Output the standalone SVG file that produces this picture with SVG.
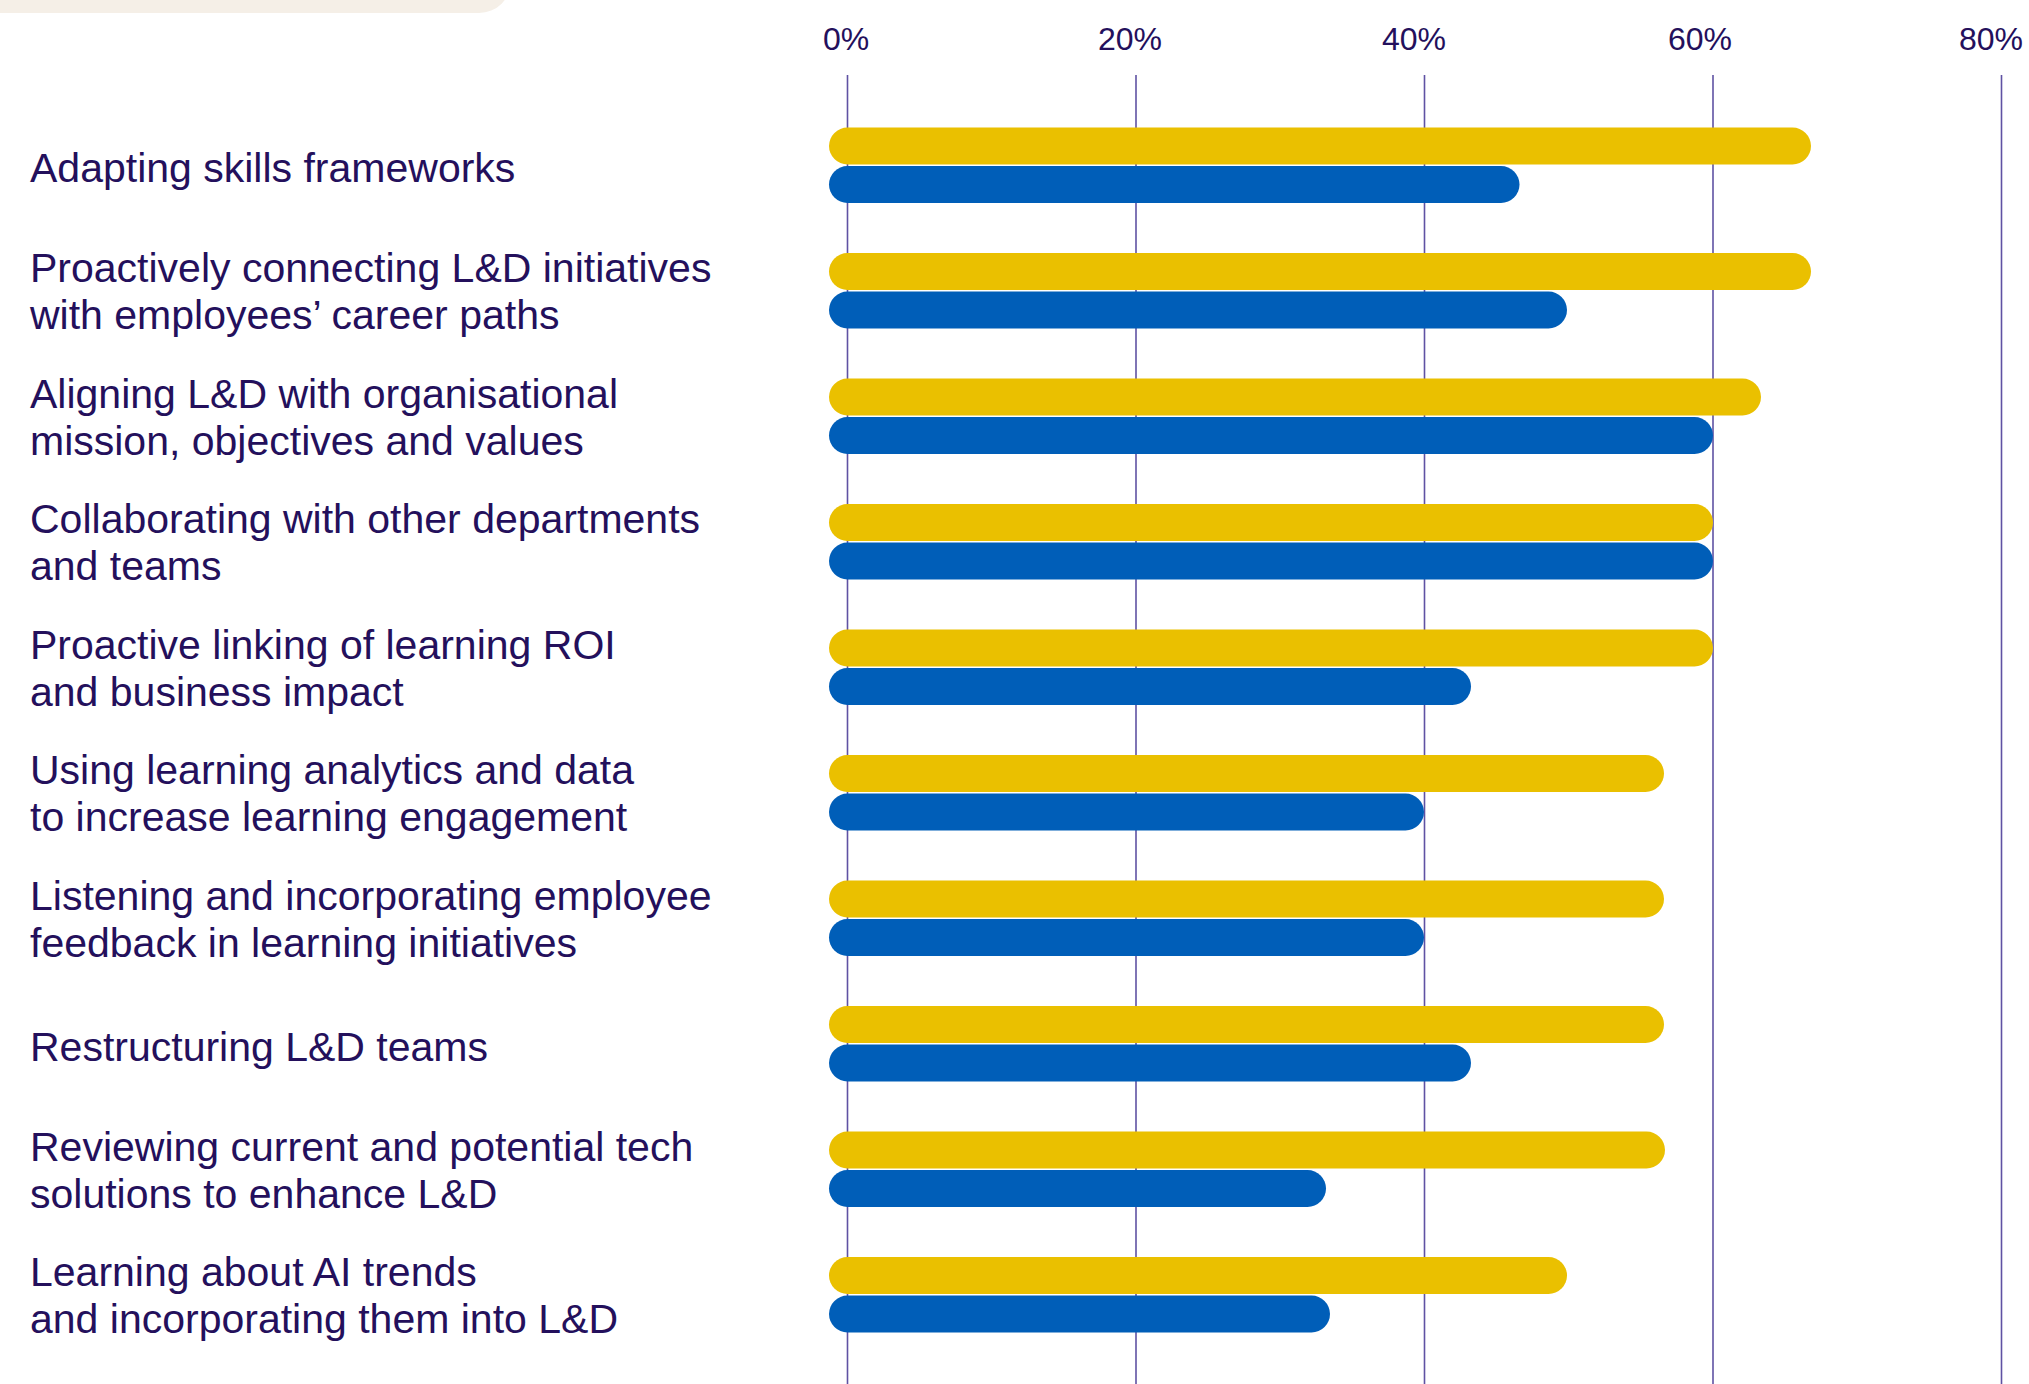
<svg xmlns="http://www.w3.org/2000/svg" width="2029" height="1384" viewBox="0 0 2029 1384">
<style>
.lbl{font-family:"Liberation Sans",Arial,sans-serif;font-size:41px;fill:#24105C}
.ax{font-family:"Liberation Sans",Arial,sans-serif;font-size:32px;fill:#24105C;text-anchor:middle}
.grid{stroke:#5F52A3;stroke-width:1.6}
.y{fill:#EAC000}
.b{fill:#005EB8}
</style>
<rect width="2029" height="1384" fill="#FFFFFF"/>
<rect x="-60" y="-80" width="571" height="93" rx="32" fill="#F5EFE7"/>
<g id="axis">
<text class="ax" x="846" y="50">0%</text>
<text class="ax" x="1130" y="50">20%</text>
<text class="ax" x="1414" y="50">40%</text>
<text class="ax" x="1700" y="50">60%</text>
<text class="ax" x="1991" y="50">80%</text>
</g>
<g id="gridlines">
<line class="grid" x1="847.5" y1="75" x2="847.5" y2="1384"/>
<line class="grid" x1="1136" y1="75" x2="1136" y2="1384"/>
<line class="grid" x1="1424.5" y1="75" x2="1424.5" y2="1384"/>
<line class="grid" x1="1713" y1="75" x2="1713" y2="1384"/>
<line class="grid" x1="2001.5" y1="75" x2="2001.5" y2="1384"/>
</g>
<g id="row1">
<text class="lbl" x="30" y="182">Adapting skills frameworks</text>
<rect class="y" x="829" y="127.5" width="982" height="37" rx="18.5"/>
<rect class="b" x="829" y="166" width="690.5" height="37" rx="18.5"/>
</g>
<g id="row2">
<text class="lbl" x="30" y="282">Proactively connecting L&amp;D initiatives</text>
<text class="lbl" x="30" y="329">with employees’ career paths</text>
<rect class="y" x="829" y="253" width="982" height="37" rx="18.5"/>
<rect class="b" x="829" y="291.5" width="738" height="37" rx="18.5"/>
</g>
<g id="row3">
<text class="lbl" x="30" y="407.5">Aligning L&amp;D with organisational</text>
<text class="lbl" x="30" y="454.5">mission, objectives and values</text>
<rect class="y" x="829" y="378.5" width="932" height="37" rx="18.5"/>
<rect class="b" x="829" y="417" width="884" height="37" rx="18.5"/>
</g>
<g id="row4">
<text class="lbl" x="30" y="533">Collaborating with other departments</text>
<text class="lbl" x="30" y="580">and teams</text>
<rect class="y" x="829" y="504" width="884" height="37" rx="18.5"/>
<rect class="b" x="829" y="542.5" width="884" height="37" rx="18.5"/>
</g>
<g id="row5">
<text class="lbl" x="30" y="658.5">Proactive linking of learning ROI</text>
<text class="lbl" x="30" y="705.5">and business impact</text>
<rect class="y" x="829" y="629.5" width="884" height="37" rx="18.5"/>
<rect class="b" x="829" y="668" width="642" height="37" rx="18.5"/>
</g>
<g id="row6">
<text class="lbl" x="30" y="784">Using learning analytics and data</text>
<text class="lbl" x="30" y="831">to increase learning engagement</text>
<rect class="y" x="829" y="755" width="835" height="37" rx="18.5"/>
<rect class="b" x="829" y="793.5" width="595" height="37" rx="18.5"/>
</g>
<g id="row7">
<text class="lbl" x="30" y="909.5">Listening and incorporating employee</text>
<text class="lbl" x="30" y="956.5">feedback in learning initiatives</text>
<rect class="y" x="829" y="880.5" width="835" height="37" rx="18.5"/>
<rect class="b" x="829" y="919" width="595" height="37" rx="18.5"/>
</g>
<g id="row8">
<text class="lbl" x="30" y="1060.5">Restructuring L&amp;D teams</text>
<rect class="y" x="829" y="1006" width="835" height="37" rx="18.5"/>
<rect class="b" x="829" y="1044.5" width="642" height="37" rx="18.5"/>
</g>
<g id="row9">
<text class="lbl" x="30" y="1160.5">Reviewing current and potential tech</text>
<text class="lbl" x="30" y="1207.5">solutions to enhance L&amp;D</text>
<rect class="y" x="829" y="1131.5" width="836" height="37" rx="18.5"/>
<rect class="b" x="829" y="1170" width="497" height="37" rx="18.5"/>
</g>
<g id="row10">
<text class="lbl" x="30" y="1286">Learning about AI trends</text>
<text class="lbl" x="30" y="1333">and incorporating them into L&amp;D</text>
<rect class="y" x="829" y="1257" width="738" height="37" rx="18.5"/>
<rect class="b" x="829" y="1295.5" width="501" height="37" rx="18.5"/>
</g>
</svg>
